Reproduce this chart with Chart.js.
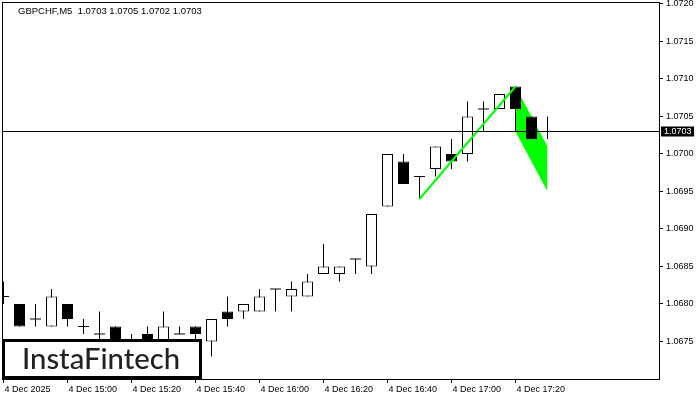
<!DOCTYPE html>
<html lang="en">
<head>
<meta charset="UTF-8">
<title>GBPCHF M5</title>
<script src="https://cdn.jsdelivr.net/npm/chart.js@4.4.1/dist/chart.umd.min.js"></script>
<style>
  html, body { margin: 0; padding: 0; background: #fff; }
  #wrap { width: 700px; height: 400px; }
</style>
</head>
<body>
<div id="wrap"><canvas id="chart" width="700" height="400"></canvas></div>
<script>
// GBPCHF M5, 4 Dec 2025 14:40 .. 17:30 (one bar per 5 minutes)
const symbol = 'GBPCHF,M5';
const open  = [1.0681, 1.0680, 1.0678, 1.0677, 1.0680, 1.0677, 1.0676, 1.0677, 1.0675, 1.0676,
               1.0674, 1.0676, 1.0677, 1.0675, 1.0679, 1.0679, 1.0679, 1.0682, 1.0681, 1.0681,
               1.0684, 1.0684, 1.0686, 1.0685, 1.0693, 1.0699, 1.0697, 1.0698, 1.0700, 1.0700,
               1.0706, 1.0706, 1.0709, 1.0705, 1.0703];
const high  = [1.0683, 1.0680, 1.0680, 1.0682, 1.0680, 1.0678, 1.0679, 1.0677, 1.0676, 1.0677,
               1.0679, 1.0677, 1.0677, 1.0678, 1.0681, 1.0680, 1.0682, 1.0682, 1.0683, 1.0684,
               1.0688, 1.0685, 1.0686, 1.0692, 1.0700, 1.0700, 1.0697, 1.0701, 1.0702, 1.0707,
               1.0707, 1.0708, 1.0709, 1.0705, 1.0705];
const low   = [1.0680, 1.0677, 1.0677, 1.0677, 1.0677, 1.0676, 1.0674, 1.0674, 1.0673, 1.0674,
               1.0673, 1.0676, 1.0675, 1.0673, 1.0677, 1.0678, 1.0679, 1.0679, 1.0679, 1.0681,
               1.0684, 1.0683, 1.0684, 1.0684, 1.0693, 1.0696, 1.0694, 1.0697, 1.0698, 1.0699,
               1.0703, 1.0706, 1.0703, 1.0702, 1.0702];
const close = [1.0681, 1.0677, 1.0678, 1.0681, 1.0678, 1.0677, 1.0676, 1.0675, 1.0674, 1.0675,
               1.0677, 1.0676, 1.0676, 1.0678, 1.0678, 1.0680, 1.0681, 1.0682, 1.0682, 1.0683,
               1.0685, 1.0685, 1.0686, 1.0692, 1.0700, 1.0696, 1.0697, 1.0701, 1.0699, 1.0705,
               1.0706, 1.0708, 1.0706, 1.0702, 1.0703];

const xTickIdx = [0, 4, 8, 12, 16, 20, 24, 28, 32];
const xLabels  = ['4 Dec 2025', '4 Dec 15:00', '4 Dec 15:20', '4 Dec 15:40', '4 Dec 16:00',
                  '4 Dec 16:20', '4 Dec 16:40', '4 Dec 17:00', '4 Dec 17:20'];
const yTicks   = [1.0675, 1.0680, 1.0685, 1.0690, 1.0695, 1.0700, 1.0705, 1.0710, 1.0715, 1.0720];

// flag pattern: pole and flag channel
const poleIdx    = [26, 32];
const polePrice  = [1.0694, 1.0709];
const flagIdx    = [32, 34];
const flagTop    = [1.0709, 1.0701];
const flagBottom = [1.0703, 1.0695];

const idx = close.map((_, i) => i);
const pts = (xs, ys) => xs.map((x, k) => ({ x: x, y: ys[k] }));

Chart.defaults.font.family = "'Liberation Sans', Arial, sans-serif";
Chart.defaults.font.size = 9;
Chart.defaults.color = '#000';

// bid line, price tag, frame, title and logo
const overlay = {
    id: 'overlay',
    afterDatasetsDraw(chart) {
        const { ctx, chartArea: a, scales: { y } } = chart;
        const n = close.length - 1;
        const bid = close[n];
        const py = Math.round(y.getPixelForValue(bid)) + 0.5;
        ctx.save();
        ctx.strokeStyle = '#000';
        ctx.lineWidth = 1;
        ctx.beginPath();
        ctx.moveTo(a.left, py);
        ctx.lineTo(a.right, py);
        ctx.stroke();

        // logo box
        const bx = a.left - 1, by = a.bottom - 40;
        ctx.fillStyle = '#fff';
        ctx.fillRect(bx, by, 200, 40);
        ctx.lineWidth = 3;
        ctx.strokeRect(bx + 1.5, by + 1.5, 197, 37);
        ctx.font = '500 28px Lato, sans-serif';
        const w = ctx.measureText('InstaFintech').width;
        ctx.save();
        ctx.translate(bx + 20, by + 30);
        ctx.scale(158 / w, 1);
        ctx.fillStyle = '#222';
        ctx.textBaseline = 'alphabetic';
        ctx.fillText('InstaFintech', 0, 0);
        ctx.restore();

        // frame
        ctx.lineWidth = 1;
        ctx.strokeRect(a.left - 0.5, a.top - 0.5, a.right - a.left + 1, a.bottom - a.top + 1);

        // price tag
        ctx.fillStyle = '#000';
        ctx.fillRect(a.right + 2, py - 5, 33, 10);
        ctx.fillStyle = '#fff';
        ctx.font = '9px "Liberation Sans", Arial, sans-serif';
        ctx.textBaseline = 'middle';
        ctx.textAlign = 'left';
        ctx.fillText(bid.toFixed(4), a.right + 5, py + 0.5);

        // title
        ctx.fillStyle = '#000';
        ctx.textBaseline = 'alphabetic';
        ctx.font = '9.5px "Liberation Sans", Arial, sans-serif';
        const title = symbol + '  ' + [open[n], high[n], low[n], close[n]].map(v => v.toFixed(4)).join(' ');
        ctx.fillText(title, a.left + 15, a.top + 11);
        ctx.restore();
    }
};

new Chart(document.getElementById('chart'), {
    type: 'bar',
    data: {
        datasets: [
            {
                type: 'line',
                data: pts(poleIdx, polePrice),
                borderColor: '#00ff00',
                borderWidth: 2,
                pointRadius: 0,
                order: 1
            },
            {
                data: idx.map(i => ({ x: i, y: [open[i], close[i]] })),
                backgroundColor: idx.map(i => close[i] >= open[i] ? '#fff' : '#000'),
                borderColor: '#000',
                borderWidth: 1,
                borderSkipped: false,
                barThickness: 11,
                inflateAmount: 0,
                grouped: false,
                order: 2
            },
            {
                type: 'line',
                data: idx.filter(i => open[i] === close[i]).map(i => ({ x: i, y: open[i] })),
                showLine: false,
                pointStyle: 'line',
                pointRadius: 5.5,
                pointBorderWidth: 1,
                pointBorderColor: '#000',
                order: 2
            },
            {
                data: idx.map(i => ({ x: i, y: [low[i], high[i]] })),
                backgroundColor: '#000',
                borderWidth: 0,
                barThickness: 1,
                inflateAmount: 0,
                grouped: false,
                order: 3
            },
            {
                type: 'line',
                data: pts(flagIdx, flagTop),
                borderWidth: 0,
                pointRadius: 0,
                backgroundColor: '#00ff00',
                fill: '+1',
                order: 4
            },
            {
                type: 'line',
                data: pts(flagIdx, flagBottom),
                borderWidth: 0,
                pointRadius: 0,
                order: 5
            }
        ]
    },
    options: {
        responsive: false,
        animation: false,
        events: [],
        layout: { autoPadding: false, padding: { left: 3, top: 3, right: 0, bottom: 0 } },
        plugins: { legend: { display: false }, tooltip: { enabled: false } },
        scales: {
            x: {
                type: 'linear',
                min: -1 / 32,
                max: 41 - 1 / 32,
                offset: false,
                grid: { drawOnChartArea: false, tickLength: 4, color: '#000', offset: false },
                border: { display: false },
                afterBuildTicks: s => { s.ticks = xTickIdx.map(v => ({ value: v })); },
                afterFit: s => { s.height = 21; s.paddingLeft = 0; s.paddingRight = 0; },
                ticks: {
                    autoSkip: false,
                    maxRotation: 0,
                    align: 'start',
                    labelOffset: 1,
                    padding: 1,
                    callback: (v, i) => xLabels[i]
                }
            },
            y: {
                position: 'right',
                min: 1.0670,
                max: 1.0720133,
                grid: { drawOnChartArea: false, tickLength: 4, color: '#000' },
                border: { display: false },
                afterBuildTicks: s => { s.ticks = yTicks.map(v => ({ value: v })); },
                afterFit: s => { s.width = 41; s.paddingTop = 0; s.paddingBottom = 0; },
                ticks: { padding: 3, callback: v => v.toFixed(4) }
            }
        }
    },
    plugins: [overlay]
});
</script>
</body>
</html>
